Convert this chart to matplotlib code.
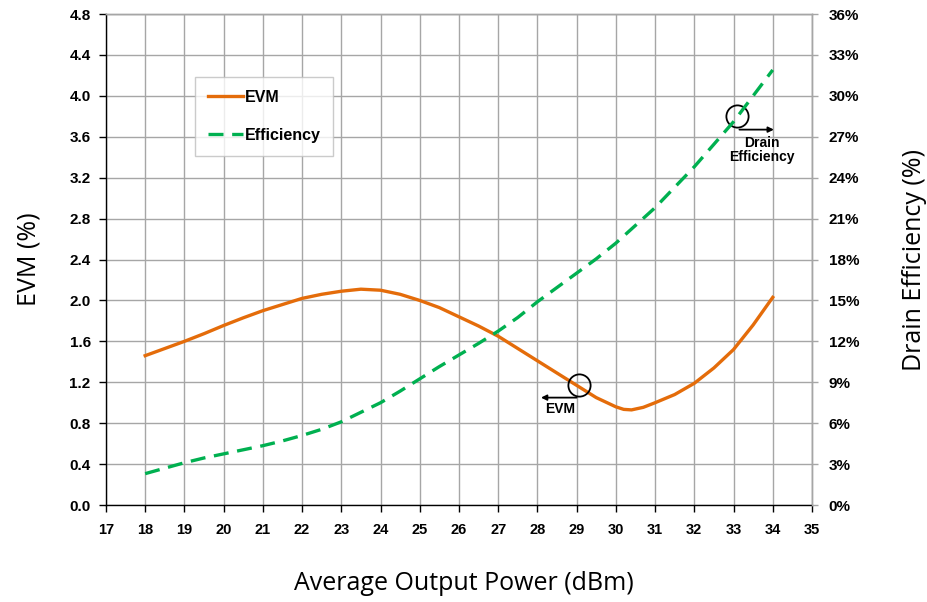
import numpy as np
import matplotlib
matplotlib.use('Agg')
import matplotlib.pyplot as plt

# EVM (%) vs average output power (dBm)
evm_x = [18, 18.5, 19, 19.5, 20, 20.5, 21, 21.5, 22, 22.5, 23, 23.5, 24, 24.5, 25, 25.5, 26, 26.5,
         27, 27.5, 28, 28.5, 29, 29.5, 30, 30.2, 30.4, 30.7, 31, 31.5, 32, 32.5, 33, 33.5, 34]
evm_y = [1.46, 1.53, 1.60, 1.675, 1.755, 1.83, 1.90, 1.96, 2.02, 2.06, 2.09, 2.11, 2.10, 2.06, 2.00, 1.93,
         1.84, 1.75, 1.65, 1.53, 1.41, 1.29, 1.17, 1.05, 0.96, 0.935, 0.93, 0.955, 1.00, 1.08,
         1.19, 1.34, 1.52, 1.76, 2.03]

# Drain efficiency (%)
eff_x = [18, 18.5, 19, 19.5, 20, 20.5, 21, 21.5, 22, 22.5, 23, 23.5, 24, 24.5, 25, 25.5, 26, 26.5,
         27, 27.5, 28, 28.5, 29, 29.5, 30, 30.5, 31, 31.5, 32, 32.5, 33, 33.5, 34]
eff_y = [2.3, 2.7, 3.1, 3.45, 3.75, 4.05, 4.35, 4.7, 5.1, 5.55, 6.1, 6.8, 7.5, 8.35, 9.25, 10.15, 11.0,
         11.85, 12.75, 13.75, 14.9, 15.95, 17.0, 18.05, 19.2, 20.5, 21.8, 23.3, 24.8, 26.45, 28.1, 30.0, 31.9]

x_ticks = list(range(17, 36))
evm_ticks = [0.4 * i for i in range(13)]
eff_ticks = [3 * i for i in range(13)]

ORANGE = '#E46C0A'
GREEN = '#00B050'
GRID = '#A6A6A6'

plt.rcParams['font.family'] = ['Liberation Sans', 'DejaVu Sans']

fig = plt.figure(figsize=(9.27, 6.02), dpi=100)
ax = fig.add_axes([0.1143, 0.1611, 0.7616, 0.8156])
ax2 = ax.twinx()

ax.set_xlim(17, 35)
ax.set_ylim(0, 4.8)
ax2.set_ylim(0, 36)

ax.set_xticks(x_ticks)
ax.set_yticks(evm_ticks)
ax.set_yticklabels([f'{v:.1f}' for v in evm_ticks])
ax2.set_yticks(eff_ticks)
ax2.set_yticklabels([f'{v}%' for v in eff_ticks])

ax.grid(True, color=GRID, linewidth=1.0)
ax.set_axisbelow(True)

for a in (ax, ax2):
    for s in a.spines.values():
        s.set_color(GRID)
        s.set_linewidth(1.0)
ax.spines['left'].set_color('black')
ax.spines['bottom'].set_color('black')
ax2.spines['left'].set_visible(False)
ax2.spines['bottom'].set_visible(False)

ax.tick_params(axis='both', direction='out', length=5, width=1, labelsize=11)
ax.tick_params(axis='x', pad=8, labelsize=10.5)
ax.tick_params(axis='y', pad=6)
ax2.tick_params(axis='y', direction='out', length=4, width=1, color=GRID, labelsize=11, pad=8)
for lbl in ax.get_xticklabels() + ax.get_yticklabels() + ax2.get_yticklabels():
    lbl.set_fontweight('bold')

l1, = ax.plot(evm_x, evm_y, color=ORANGE, linewidth=2.4, label='EVM', zorder=3,
              solid_joinstyle='round')
l2, = ax2.plot(eff_x, eff_y, color=GREEN, linewidth=2.4, dashes=(4.5, 2.6), label='Efficiency', zorder=3)

label_font = dict(family=['Open Sans', 'DejaVu Sans'], fontsize=18)
ax.set_xlabel('Average Output Power (dBm)', labelpad=24, **label_font)
ax.set_ylabel('EVM (%)', labelpad=20, **label_font)
ax2.set_ylabel('Drain Efficiency (%)', labelpad=31, **label_font)
ax.xaxis.set_label_coords(0.507, -0.135)

leg = ax.legend(handles=[l1, l2], loc='upper left', bbox_to_anchor=(0.126, 0.872), borderaxespad=0,
                frameon=True, fancybox=False, prop=dict(weight='bold', size=11.5),
                handlelength=2.2, handletextpad=0.1, labelspacing=1.45, borderpad=0.8)
leg.get_frame().set_edgecolor('#BFBFBF')
leg.get_frame().set_linewidth(1.0)

# circle + arrow markers pointing to each curve's axis
ax.plot([33.08], [3.80], marker='o', markersize=16, markerfacecolor='none',
        markeredgecolor='black', markeredgewidth=1.3, zorder=4)
ax.annotate('', xy=(34.1, 3.67), xytext=(33.08, 3.67),
            arrowprops=dict(arrowstyle='-|>', color='black', lw=1.3, mutation_scale=8))
ax.text(33.72, 3.47, 'Drain\nEfficiency', ha='center', va='center', fontsize=10,
        fontweight='bold', linespacing=1.05)

ax.plot([29.07], [1.17], marker='o', markersize=16, markerfacecolor='none',
        markeredgecolor='black', markeredgewidth=1.3, zorder=4)
ax.annotate('', xy=(28.02, 1.05), xytext=(29.07, 1.05),
            arrowprops=dict(arrowstyle='-|>', color='black', lw=1.3, mutation_scale=8))
ax.text(28.58, 0.935, 'EVM', ha='center', va='center', fontsize=10, fontweight='bold')

fig.savefig('out.png', dpi=100)
